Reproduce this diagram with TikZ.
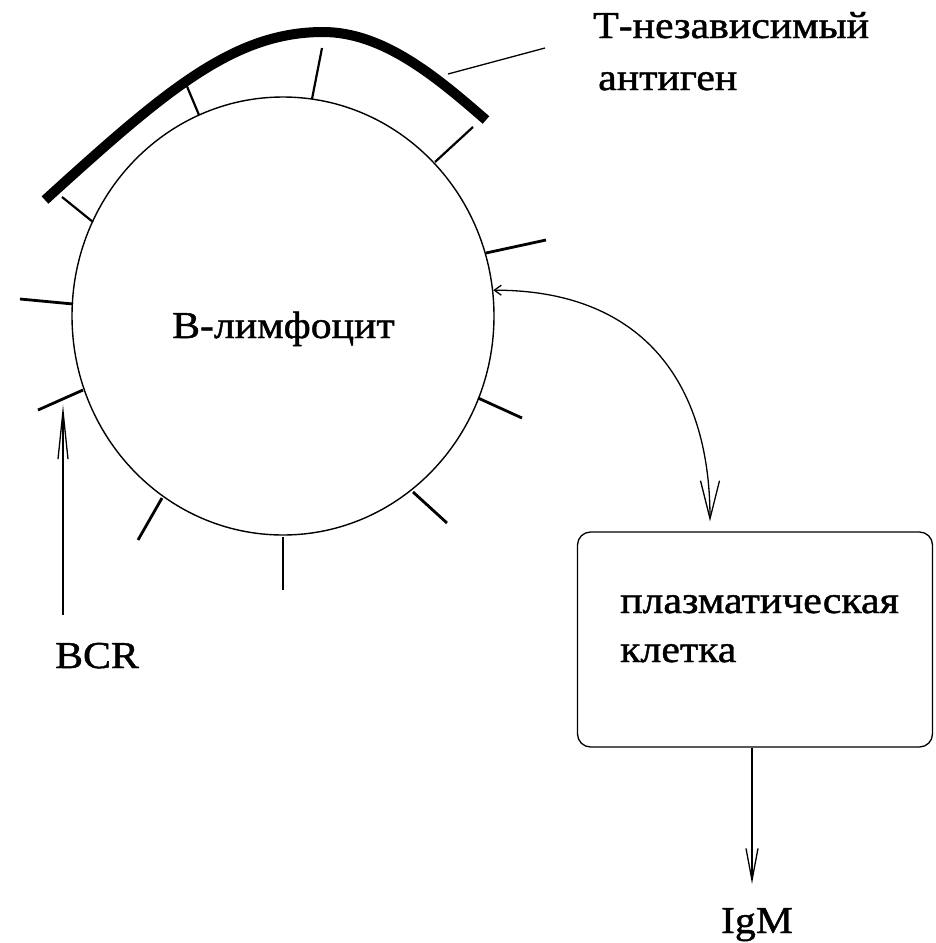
\documentclass[tikz,border=0pt]{standalone}
\usepackage{fontspec}
\setmainfont{Liberation Serif}
\newfontfamily\lblfont[FakeStretch=1.1,FakeBold=1.2]{Liberation Serif}
\usetikzlibrary{arrows.meta,shapes.geometric,calc}

\tikzset{
  membrane/.style={draw, ellipse, line width=1.4pt, inner sep=0pt},
  receptor/.style={line width=2.8pt, line cap=butt},
  bridge/.style={line width=2.2pt, line cap=butt},
  antigen/.style={line width=10pt, line cap=butt, line join=round},
  conn/.style={line width=1.3pt},
  txt/.style={font=\lblfont\fontsize{38}{44}\selectfont, inner sep=0pt, anchor=base west},
  cellbox/.style={draw, rounded corners=13pt, line width=1.3pt, inner sep=0pt}
}

\begin{document}
\begin{tikzpicture}[x=1pt,y=-1pt]
\useasboundingbox (0,0) rectangle (935,943);
\fill[white] (0,0) rectangle (935,943);

% B cell membrane
\node[membrane, minimum width=422pt, minimum height=438pt] (cell) at (283,316) {};
\node[txt] (bname) at (172,338) {В-лимфоцит};

% polymeric antigen lying over the cell
\draw[antigen] (45,200) .. controls (165,91) and (233,32) .. (323,32)
                        .. controls (383,32) and (436,76.5) .. (486,120);

% receptors bound to the antigen
\draw[bridge] (93,222) -- (62,197);
\draw[bridge] (199,115) -- (186,84);
\draw[bridge] (312,99) -- (322,48);
\draw[bridge] (435,162) -- (473,127);

% free receptors (BCR)
\draw[receptor] (486,253) -- (546,240);
\draw[receptor] (73,304) -- (20,299);
\coordinate (r7a) at (83,390);
\coordinate (r7b) at (38,410);
\draw[receptor] (r7a) -- (r7b);
\draw[receptor] (162,498) -- (138,540);
\draw[receptor] (283,537) -- (283,590);
\draw[receptor] (413,492) -- (447,523);
\draw[receptor] (478,398) -- (522,418);

% antigen label
\coordinate (agp) at (448,74);
\coordinate (agq) at (545,48);
\draw[conn] (agp) -- (agq);
\node[txt] (ag1) at (593,38) {Т-независимый};
\node[txt] (ag2) at (598,90) {антиген};

% BCR label and pointer
\node[txt] (bcr) at (55,668) {BCR};
\coordinate (bcrfoot) at (63,615);
\coordinate (bcrtip) at ($(r7a)!0.44!(r7b)$);
\draw[conn, -{Straight Barb[length=48pt,width=10pt]}, shorten >=6pt]
  (bcrfoot) -- (bcrfoot |- bcrtip);

% plasma cell
\node[cellbox, minimum width=355pt, minimum height=215pt] (plasma) at (755,639.5) {};
\node[txt] (pl1) at (620,613) {плазматическая};
\node[txt] (pl2) at (620,662) {клетка};

% differentiation arrow
\draw[conn, {Straight Barb[length=7pt,width=10pt]}-{Straight Barb[length=38pt,width=19pt]}]
  (cell.7) .. controls (640,290) and (710,380) .. ([xshift=-45pt,yshift=10pt]plasma.north);

% secreted antibody
\node[txt, anchor=base] (igm) at (757,933) {IgM};
\coordinate (pfoot) at ([xshift=-3pt]plasma.south);
\draw[conn, -{Straight Barb[length=32pt,width=12pt]}, shorten >=24pt]
  (pfoot) -- (pfoot |- igm.north);
\end{tikzpicture}
\end{document}
